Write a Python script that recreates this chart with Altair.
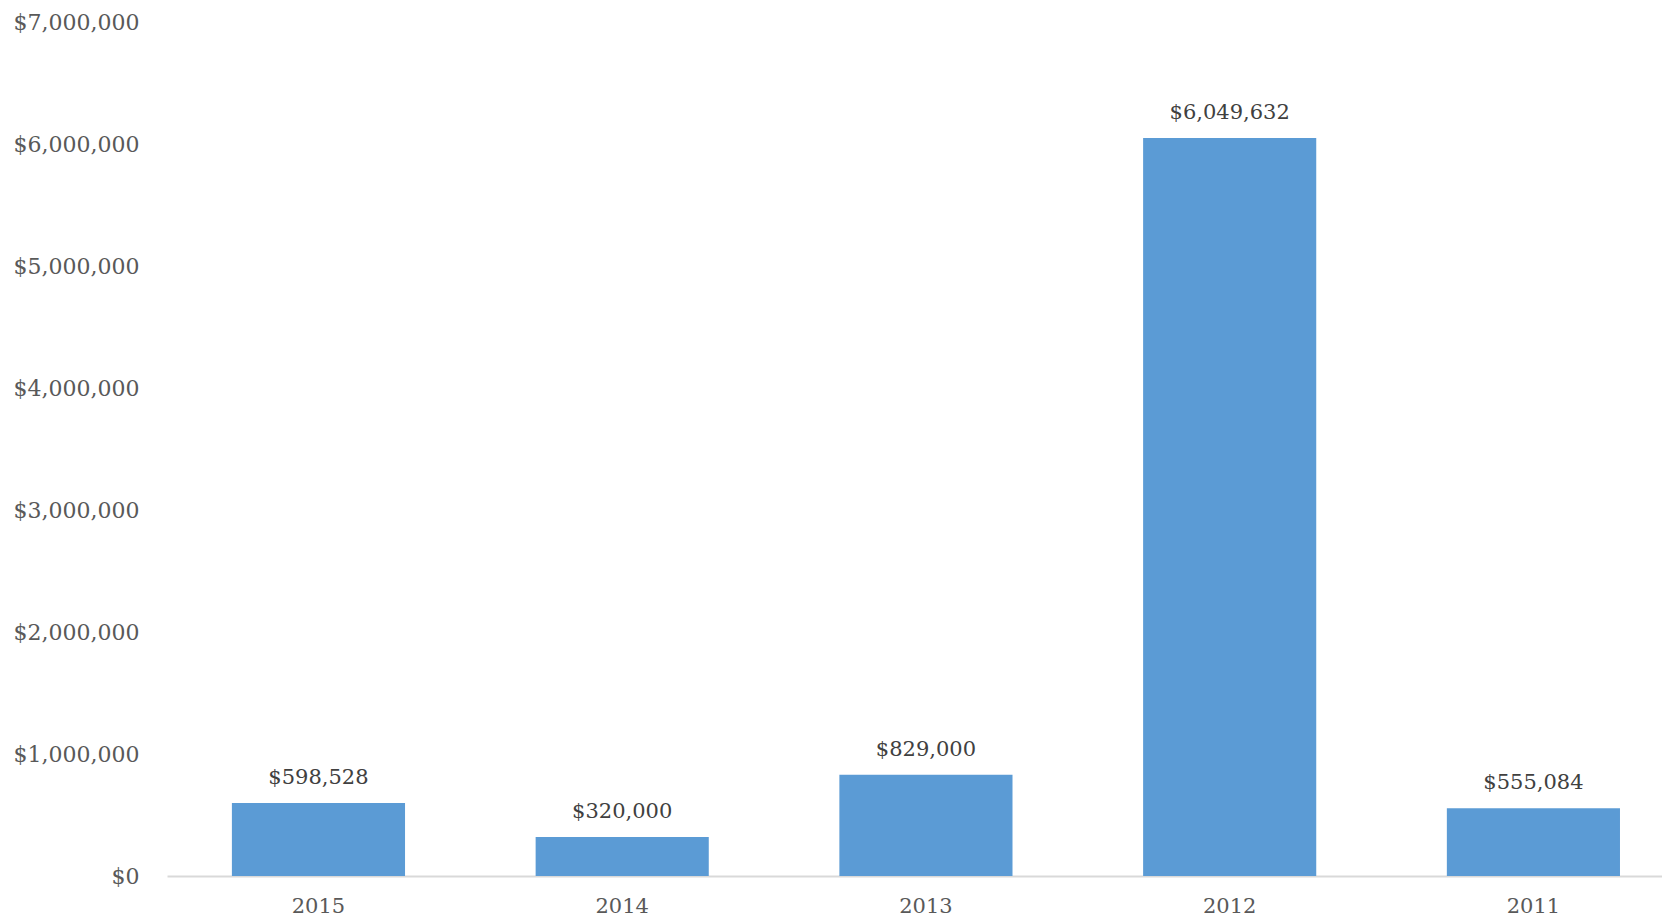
import altair as alt
import pandas as pd

years = ["2015", "2014", "2013", "2012", "2011"]
amounts = [598528, 320000, 829000, 6049632, 555084]
y_ticks = [0, 1000000, 2000000, 3000000, 4000000, 5000000, 6000000, 7000000]

df = pd.DataFrame({"year": years, "amount": amounts})

FONT = "Georgia, DejaVu Serif"

x = alt.X(
    "year:N",
    sort=years,
    title=None,
    scale=alt.Scale(paddingInner=0.43, paddingOuter=0.176, align=0.607),
    axis=alt.Axis(
        labelAngle=0, ticks=False, domain=True, domainColor="#d9d9d9",
        domainWidth=2, labelFont=FONT, labelFontSize=21, labelColor="#595959",
        labelPadding=19, grid=False,
    ),
)
y = alt.Y(
    "amount:Q",
    title=None,
    scale=alt.Scale(domain=[0, 7000000], nice=False),
    axis=alt.Axis(
        values=y_ticks, format="$,.0f", ticks=False, domain=False, grid=False,
        labelFont=FONT, labelFontSize=22, labelColor="#595959", labelPadding=28,
    ),
)

bars = alt.Chart(df).mark_bar(color="#5b9bd5").encode(x=x, y=y)
labels = alt.Chart(df).mark_text(
    font=FONT, fontSize=21, color="#404040", baseline="alphabetic", dy=-19
).encode(x=x, y=y, text=alt.Text("amount:Q", format="$,.0f"))

chart = (
    alt.layer(bars, labels)
    .properties(
        width=1495, height=854, background="white",
        padding={"left": 5, "top": 3, "right": 0, "bottom": 0},
    )
    .configure_view(strokeWidth=0, stroke="transparent")
)

chart.save("out.html", embed_options={"renderer": "svg", "actions": False})
